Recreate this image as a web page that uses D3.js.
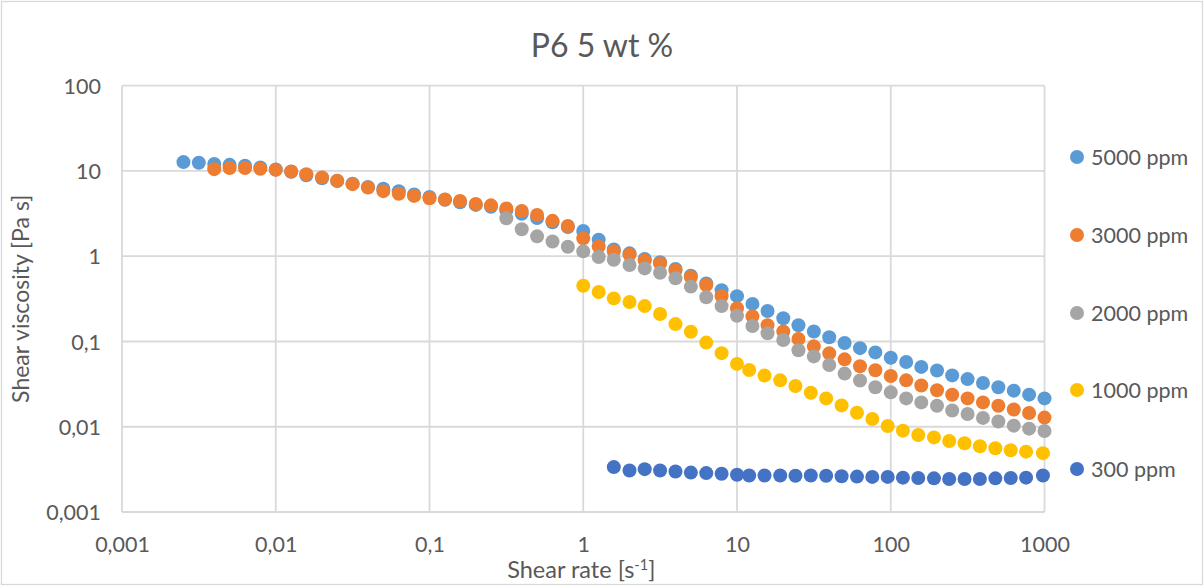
<!DOCTYPE html>
<html>
<head>
<meta charset="utf-8">
<script src="https://cdn.jsdelivr.net/npm/d3@7"></script>
<style>
  html, body { margin: 0; padding: 0; background: #fff; }
  svg { display: block; }
  text { font-family: Lato, "Open Sans", sans-serif; fill: #595959; }
</style>
</head>
<body>
<svg id="chart" width="1204" height="586"></svg>
<script>
// Shear rates [1/s] of the main sweep (5000, 3000, 2000 ppm)
const shearRateA = [0.00251, 0.00316, 0.00398, 0.00501, 0.00631, 0.00794, 0.01, 0.0126, 0.0158, 0.02,
  0.0251, 0.0316, 0.0398, 0.0501, 0.0631, 0.0794, 0.1, 0.126, 0.158, 0.2,
  0.251, 0.316, 0.398, 0.501, 0.631, 0.794, 1, 1.26, 1.58, 2,
  2.51, 3.16, 3.98, 5.01, 6.31, 7.94, 10, 12.6, 15.8, 20,
  25.1, 31.6, 39.8, 50.1, 63.1, 79.4, 100, 126, 158, 200,
  251, 316, 398, 501, 631, 794, 1000];

// Shear rates [1/s] of the sweep used for 1000 and 300 ppm
const shearRateB = [1, 1.26, 1.58, 2, 2.51, 3.16, 3.98, 5.01, 6.31, 7.94,
  10, 12, 15.1, 19.1, 24, 30.2, 38, 47.9, 60.3, 75.9,
  95.5, 120, 151, 191, 240, 302, 380, 479, 603, 759, 977];

// Shear viscosity [Pa s]
const visc5000 = [12.7, 12.5, 12.1, 11.8, 11.5, 11.0, 10.4, 9.8, 8.9, 8.2,
  7.6, 7.1, 6.5, 6.2, 5.8, 5.3, 4.95, 4.6, 4.3, 4.0,
  3.8, 3.45, 3.15, 2.8, 2.5, 2.2, 1.98, 1.56, 1.2, 1.08,
  0.93, 0.85, 0.71, 0.59, 0.48, 0.40, 0.34, 0.276, 0.228, 0.187,
  0.155, 0.131, 0.112, 0.096, 0.0835, 0.0745, 0.0645, 0.0574, 0.0503, 0.0457,
  0.040, 0.0362, 0.0326, 0.029, 0.0265, 0.0238, 0.0215];

const visc3000 = [10.5, 10.8, 10.8, 10.6, 10.3, 9.84, 9.14, 8.4, 7.7, 7.0,
  6.4, 5.8, 5.4, 5.1, 4.79, 4.62, 4.45, 4.1, 3.95, 3.64,
  3.4, 3.05, 2.6, 2.26, 1.62, 1.30, 1.14, 1.04, 0.89, 0.82,
  0.68, 0.57, 0.46, 0.34, 0.245, 0.197, 0.155, 0.131, 0.107, 0.0877,
  0.0726, 0.0617, 0.0513, 0.046, 0.0393, 0.035, 0.0305, 0.0268, 0.0237, 0.0215,
  0.0193, 0.0176, 0.0159, 0.0145, 0.0128];

const visc2000 = [2.79, 2.07, 1.71, 1.49, 1.29, 1.14, 0.98, 0.91, 0.79, 0.72,
  0.64, 0.55, 0.44, 0.33, 0.26, 0.20, 0.152, 0.125, 0.104, 0.079,
  0.0668, 0.053, 0.042, 0.0348, 0.029, 0.0253, 0.0215, 0.0193, 0.0176, 0.0155,
  0.0141, 0.0127, 0.0115, 0.0103, 0.0095, 0.0089];

const visc1000 = [0.45, 0.38, 0.32, 0.29, 0.26, 0.21, 0.16, 0.13, 0.097, 0.073,
  0.0546, 0.0462, 0.0398, 0.035, 0.030, 0.025, 0.0215, 0.0178, 0.0146, 0.0123,
  0.0102, 0.009, 0.008, 0.0075, 0.0068, 0.0064, 0.0059, 0.0056, 0.0053, 0.0051, 0.0049];

const visc300 = [0.00336, 0.00307, 0.00318, 0.00307, 0.00298, 0.0029, 0.00286, 0.00281, 0.00273,
  0.00268, 0.00268, 0.00268, 0.00266, 0.00268, 0.00266, 0.00263, 0.0026, 0.00258, 0.00258,
  0.00253, 0.0025, 0.00248, 0.00244, 0.00244, 0.00244, 0.00248, 0.0025, 0.00253, 0.00268];

const seriesNames = ["5000 ppm", "3000 ppm", "2000 ppm", "1000 ppm", "300 ppm"];
const seriesColors = ["#5B9BD5", "#ED7D31", "#A5A5A5", "#FFC000", "#4472C4"];

const xTickValues = [0.001, 0.01, 0.1, 1, 10, 100, 1000];
const xTickLabels = ["0,001", "0,01", "0,1", "1", "10", "100", "1000"];
const yTickValues = [0.001, 0.01, 0.1, 1, 10, 100];
const yTickLabels = ["0,001", "0,01", "0,1", "1", "10", "100"];

// pair each viscosity list with the tail of its shear-rate sweep
function pairUp(rates, visc) {
  const offset = rates.length - visc.length;
  return visc.map((v, i) => ({ x: rates[offset + i], y: v }));
}
const series = [
  pairUp(shearRateA, visc5000),
  pairUp(shearRateA, visc3000),
  pairUp(shearRateA, visc2000),
  pairUp(shearRateB, visc1000),
  pairUp(shearRateB, visc300)
];

const W = 1204, H = 586;
const plot = { left: 122, right: 1044.5, top: 85.7, bottom: 512 };
const svg = d3.select("#chart");

// chart frame
svg.append("rect")
  .attr("x", 1.5).attr("y", 1.5)
  .attr("width", W - 3).attr("height", H - 3)
  .attr("fill", "#fff").attr("stroke", "#d9d9d9").attr("stroke-width", 1.3);

const x = d3.scaleLog().domain([0.001, 1000]).range([plot.left, plot.right]);
const y = d3.scaleLog().domain([0.001, 100]).range([plot.bottom, plot.top]);

// gridlines
const grid = svg.append("g").attr("stroke", "#d9d9d9").attr("stroke-width", 1.8);
grid.selectAll("line.v").data(xTickValues).join("line")
  .attr("x1", d => x(d)).attr("x2", d => x(d))
  .attr("y1", plot.top).attr("y2", plot.bottom);
grid.selectAll("line.h").data(yTickValues).join("line")
  .attr("x1", plot.left).attr("x2", plot.right)
  .attr("y1", d => y(d)).attr("y2", d => y(d));

// axes (labels only; the gridlines carry the lines)
const tickFont = 21.5;
const xAxis = d3.axisBottom(x).tickValues(xTickValues)
  .tickFormat((d, i) => xTickLabels[i]).tickSize(0).tickPadding(0);
const gx = svg.append("g").attr("transform", `translate(0,${plot.bottom})`).call(xAxis);
gx.select(".domain").remove();
gx.selectAll("text")
  .attr("y", 40).attr("dy", 0)
  .attr("font-size", tickFont).attr("fill", "#595959")
  .style("font-family", "Lato, sans-serif");

const yAxis = d3.axisLeft(y).tickValues(yTickValues)
  .tickFormat((d, i) => yTickLabels[i]).tickSize(0).tickPadding(0);
const gy = svg.append("g").attr("transform", `translate(${plot.left - 21},0)`).call(yAxis);
gy.select(".domain").remove();
gy.selectAll("text")
  .attr("x", 0).attr("dy", "0.35em")
  .attr("font-size", tickFont).attr("fill", "#595959")
  .style("font-family", "Lato, sans-serif");

// markers
series.forEach((pts, si) => {
  svg.append("g").selectAll("circle").data(pts).join("circle")
    .attr("cx", d => x(d.x)).attr("cy", d => y(d.y))
    .attr("r", 7).attr("fill", seriesColors[si]);
});

// title, centred on the chart area
svg.append("text")
  .attr("x", W / 2).attr("y", 57)
  .attr("text-anchor", "middle").attr("font-size", 32)
  .text("P6 5 wt %");

// axis titles
const xt = svg.append("text")
  .attr("x", (plot.left + plot.right) / 2 - 2).attr("y", 578)
  .attr("text-anchor", "middle").attr("font-size", 23.5);
xt.append("tspan").text("Shear rate [s");
xt.append("tspan").attr("font-size", 14.5).attr("dy", -8).text("-1");
xt.append("tspan").attr("dy", 8).text("]");

svg.append("text")
  .attr("transform", `translate(29,${(plot.top + plot.bottom) / 2}) rotate(-90)`)
  .attr("text-anchor", "middle").attr("font-size", 23)
  .text("Shear viscosity [Pa s]");

// legend
const legendY = [157, 235, 313, 390, 469];
const lg = svg.append("g");
seriesNames.forEach((name, i) => {
  lg.append("circle").attr("cx", 1077).attr("cy", legendY[i]).attr("r", 7).attr("fill", seriesColors[i]);
  lg.append("text").attr("x", 1091).attr("y", legendY[i]).attr("dy", "0.35em")
    .attr("font-size", tickFont).text(name);
});
</script>
</body>
</html>
